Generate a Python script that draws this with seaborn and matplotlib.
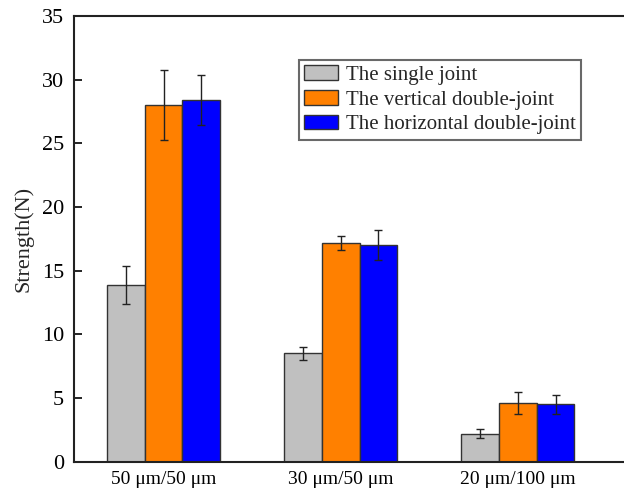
import matplotlib
matplotlib.use("Agg")
from matplotlib import pyplot as plt
import seaborn as sns
import pandas as pd

groups = ["50 \u03bcm/50 \u03bcm", "30 \u03bcm/50 \u03bcm", "20 \u03bcm/100 \u03bcm"]
joints = ["The single joint", "The vertical double-joint", "The horizontal double-joint"]
single = [13.9, 8.5, 2.2]
vertical = [28.0, 17.2, 4.6]
horizontal = [28.4, 17.0, 4.5]
single_err = [1.5, 0.5, 0.35]
vertical_err = [2.75, 0.55, 0.85]
horizontal_err = [1.95, 1.2, 0.75]
COLORS = ["#C0C0C0", "#FF8000", "#0000FF"]

df = pd.DataFrame({
    "group": groups * 3,
    "joint": [joints[0]] * 3 + [joints[1]] * 3 + [joints[2]] * 3,
    "strength": single + vertical + horizontal,
    "err": single_err + vertical_err + horizontal_err,
})

sns.set_style("ticks")
plt.rcParams['font.family'] = ['Liberation Serif', 'DejaVu Serif']

fig = plt.figure(figsize=(6.24, 4.92), dpi=100)
ax = fig.add_axes([74 / 624, 30.3 / 492, 1 - 74 / 624, 445.7 / 492])

sns.barplot(data=df, x="group", y="strength", hue="joint", order=groups, hue_order=joints,
            palette=COLORS, width=0.64, gap=0, errorbar=None, edgecolor="#333333",
            linewidth=1.0, saturation=1, ax=ax)

# error bars, positioned from the bars seaborn drew
for joint, bars in zip(joints, ax.containers):
    sub = df[df["joint"] == joint].set_index("group").loc[groups]
    xs = [b.get_x() + b.get_width() / 2 for b in bars]
    ax.errorbar(xs, sub["strength"], yerr=sub["err"], fmt="none", ecolor="#222222",
                elinewidth=1.0, capsize=3, capthick=1.0, zorder=5)

ax.set_ylim(0, 35)
ax.set_xlim(-0.506, 2.60)
ax.set_yticks([0, 5, 10, 15, 20, 25, 30, 35])
ax.set_xlabel("")
ax.set_ylabel("Strength(N)", fontsize=16, labelpad=6)
ax.tick_params(direction="in", length=6, width=1.2, colors="black")
ax.tick_params(axis="y", labelsize=16, pad=7)
ax.tick_params(axis="x", labelsize=14, pad=7)
for s in ["left", "bottom", "top"]:
    ax.spines[s].set_linewidth(1.5)
    ax.spines[s].set_color("#222222")
ax.spines["right"].set_visible(False)

leg = ax.legend(loc="upper left", bbox_to_anchor=(299 / 624, 1 - 60 / 492),
                bbox_transform=fig.transFigure, fontsize=15, frameon=True, fancybox=False,
                handlelength=1.6, handleheight=0.7, handletextpad=0.4, labelspacing=0.25,
                borderpad=0.25, borderaxespad=0)
leg.get_frame().set_edgecolor("#444444")
leg.get_frame().set_linewidth(1.5)

fig.savefig("out.png", dpi=100)
